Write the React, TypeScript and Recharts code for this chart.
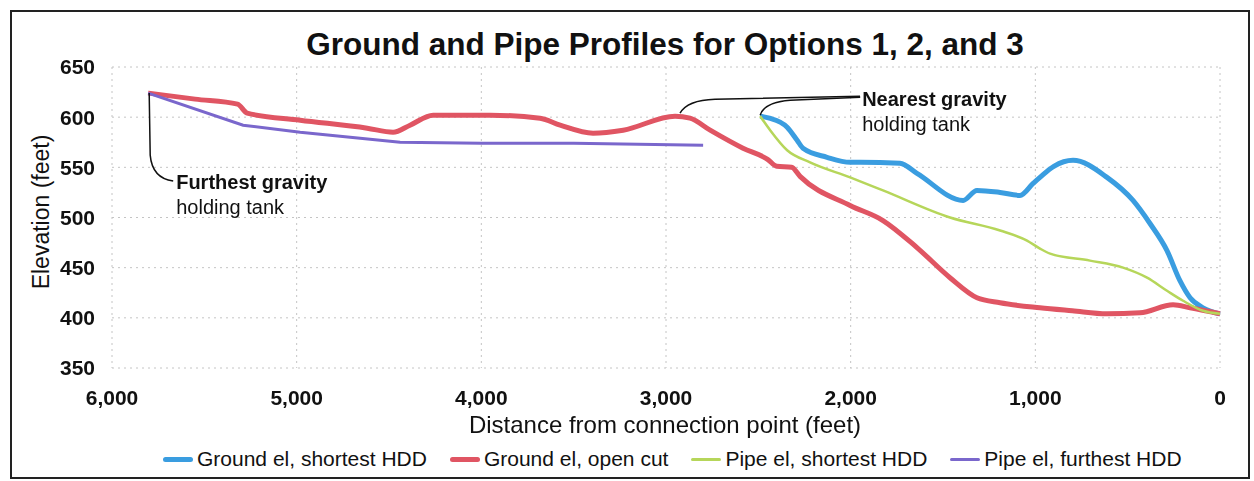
import { LineChart, Line, XAxis, YAxis, CartesianGrid, ReferenceDot } from 'recharts';

const FONT = '"Liberation Sans", Arial, sans-serif';

// distance from connection point (ft) and elevation (ft)
const groundHddDist = [2490, 2440, 2344, 2290, 2258, 2128, 2003, 1949, 1733, 1641, 1391, 1316, 1191, 1083, 1012, 975, 900, 796, 612, 471, 379, 287, 217, 162, 92, 0];
const groundHddElev = [601, 599, 590, 577, 569, 560, 555, 555, 554, 544, 517, 527, 525, 522, 534, 540, 551, 557, 540, 517, 494, 467, 437, 420, 410, 404];

const openCutDist = [5804, 5550, 5320, 5268, 4981, 4618, 4478, 4386, 4261, 3952, 3682, 3573, 3395, 3232, 2951, 2870, 2761, 2583, 2450, 2400, 2320, 2274, 2003, 1825, 1641, 1462, 1316, 1191, 975, 800, 612, 433, 254, 162, 0];
const openCutElev = [624, 618, 613, 604, 597, 589, 585, 592, 602, 602, 599, 592, 584, 587, 601, 599, 587, 569, 558, 551, 550, 541, 512, 497, 470, 440, 420, 415, 410, 407, 404, 405, 413, 410, 404];

const pipeHddDist = [2490, 2436, 2344, 2220, 2003, 1825, 1462, 1191, 1045, 975, 920, 704, 525, 395, 287, 200, 92, 0];
const pipeHddElev = [601, 587, 567, 555, 540, 527, 500, 487, 477, 469, 464, 457, 450, 440, 427, 417, 407, 404];

const pipeFurthestDist = [5804, 5290, 4981, 4440, 4000, 3500, 2799];
const pipeFurthestElev = [624, 592, 585, 575, 574, 574, 572];

const xTicks = [0, 1000, 2000, 3000, 4000, 5000, 6000];
const yTicks = [350, 400, 450, 500, 550, 600, 650];

const toPoints = (d: number[], e: number[]) => d.map((x, i) => ({ dist: x, elev: e[i] }));

const series = [
  { name: 'Ground el, shortest HDD', color: '#3a9de0', width: 5, curve: 'monotone', data: toPoints(groundHddDist, groundHddElev) },
  { name: 'Ground el, open cut', color: '#e05563', width: 5, curve: 'monotone', data: toPoints(openCutDist, openCutElev) },
  { name: 'Pipe el, shortest HDD', color: '#b6d65a', width: 2.5, curve: 'monotone', data: toPoints(pipeHddDist, pipeHddElev) },
  { name: 'Pipe el, furthest HDD', color: '#7a67cc', width: 3, curve: 'linear', data: toPoints(pipeFurthestDist, pipeFurthestElev) },
];

const noteBold = { fontFamily: FONT, fontSize: 20, fontWeight: 700, fill: '#111' };
const noteReg = { fontFamily: FONT, fontSize: 20, fill: '#111' };

const FurthestNote = (p: any) => (
  <g>
    <path d={`M${p.cx + 1},${p.cy} L${p.cx + 2},${p.cy + 62} Q${p.cx + 4},${p.cy + 85} ${p.cx + 25},${p.cy + 88}`} fill="none" stroke="#111" strokeWidth={1.5} />
    <text x={p.cx + 28} y={p.cy + 96} style={noteBold}>Furthest gravity</text>
    <text x={p.cx + 28} y={p.cy + 121} style={noteReg}>holding tank</text>
  </g>
);

const NearestNote = (p: any) => (
  <g>
    <path d={`M${p.cx},${p.cy - 1} Q${p.cx + 4},${p.cy - 14} ${p.cx + 30},${p.cy - 16} L${p.cx + 100},${p.cy - 19}`} fill="none" stroke="#111" strokeWidth={1.5} />
    <text x={p.cx + 102} y={p.cy - 10} style={noteBold}>Nearest gravity</text>
    <text x={p.cx + 102} y={p.cy + 15} style={noteReg}>holding tank</text>
  </g>
);

const PeakLeader = (p: any) => (
  <path d={`M${p.cx + 5},${p.cy - 3} Q${p.cx + 12},${p.cy - 16} ${p.cx + 40},${p.cy - 17} L${p.cx + 185},${p.cy - 20}`} fill="none" stroke="#111" strokeWidth={1.5} />
);

export default function App() {
  return (
    <div style={{ position: 'fixed', left: 0, top: 0, width: 1254, height: 481, background: '#fff', fontFamily: FONT }}>
      <div style={{ position: 'absolute', left: 10, top: 10, width: 1236, height: 465, border: '2px solid #222' }} />
      <div style={{ position: 'absolute', left: 0, width: 1330, top: 26, textAlign: 'center', fontSize: 31.5, fontWeight: 700, color: '#111' }}>
        Ground and Pipe Profiles for Options 1, 2, and 3
      </div>
      <div style={{ position: 'absolute', left: 41, top: 212, transform: 'translate(-50%, -50%) rotate(-90deg)', fontSize: 23, color: '#111', whiteSpace: 'nowrap' }}>
        Elevation (feet)
      </div>
      <div style={{ position: 'absolute', left: 0, width: 1330, top: 411, textAlign: 'center', fontSize: 24, color: '#111' }}>
        Distance from connection point (feet)
      </div>
      <div style={{ position: 'absolute', left: 163, top: 447, display: 'flex', alignItems: 'center', fontSize: 21, color: '#111', whiteSpace: 'nowrap' }}>
        {series.map(s => (
          <div key={s.name} style={{ display: 'flex', alignItems: 'center', marginRight: 23 }}>
            <div style={{ width: 30, height: Math.max(3, s.width), background: s.color, borderRadius: 3, marginRight: 4 }} />
            {s.name}
          </div>
        ))}
      </div>
      <div style={{ position: 'absolute', left: 0, top: 0 }}>
        <LineChart width={1254} height={481} margin={{ top: 67, right: 34, bottom: 63, left: 52 }}>
          <CartesianGrid stroke="#c4c4c4" strokeDasharray="2 4" />
          <XAxis
            dataKey="dist"
            type="number"
            domain={[0, 6000]}
            ticks={xTicks}
            reversed
            allowDuplicatedCategory={false}
            tickFormatter={(v: number) => v.toLocaleString('en-US')}
            tick={{ fill: '#111', fontSize: 21, fontWeight: 700, fontFamily: FONT }}
            axisLine={false}
            tickLine={false}
            tickSize={0}
            tickMargin={22}
            height={50}
          />
          <YAxis
            type="number"
            domain={[350, 650]}
            ticks={yTicks}
            tick={{ fill: '#111', fontSize: 21, fontWeight: 700, fontFamily: FONT }}
            axisLine={false}
            tickLine={false}
            tickSize={0}
            tickMargin={17}
            width={60}
          />
          {series.map(s => (
            <Line
              key={s.name}
              data={s.data}
              dataKey="elev"
              name={s.name}
              type={s.curve as any}
              stroke={s.color}
              strokeWidth={s.width}
              dot={false}
              isAnimationActive={false}
            />
          ))}
          <ReferenceDot x={openCutDist[0]} y={openCutElev[0]} shape={FurthestNote} />
          <ReferenceDot x={groundHddDist[0]} y={groundHddElev[0]} shape={NearestNote} />
          <ReferenceDot x={openCutDist[14]} y={openCutElev[14]} shape={PeakLeader} />
        </LineChart>
      </div>
    </div>
  );
}
